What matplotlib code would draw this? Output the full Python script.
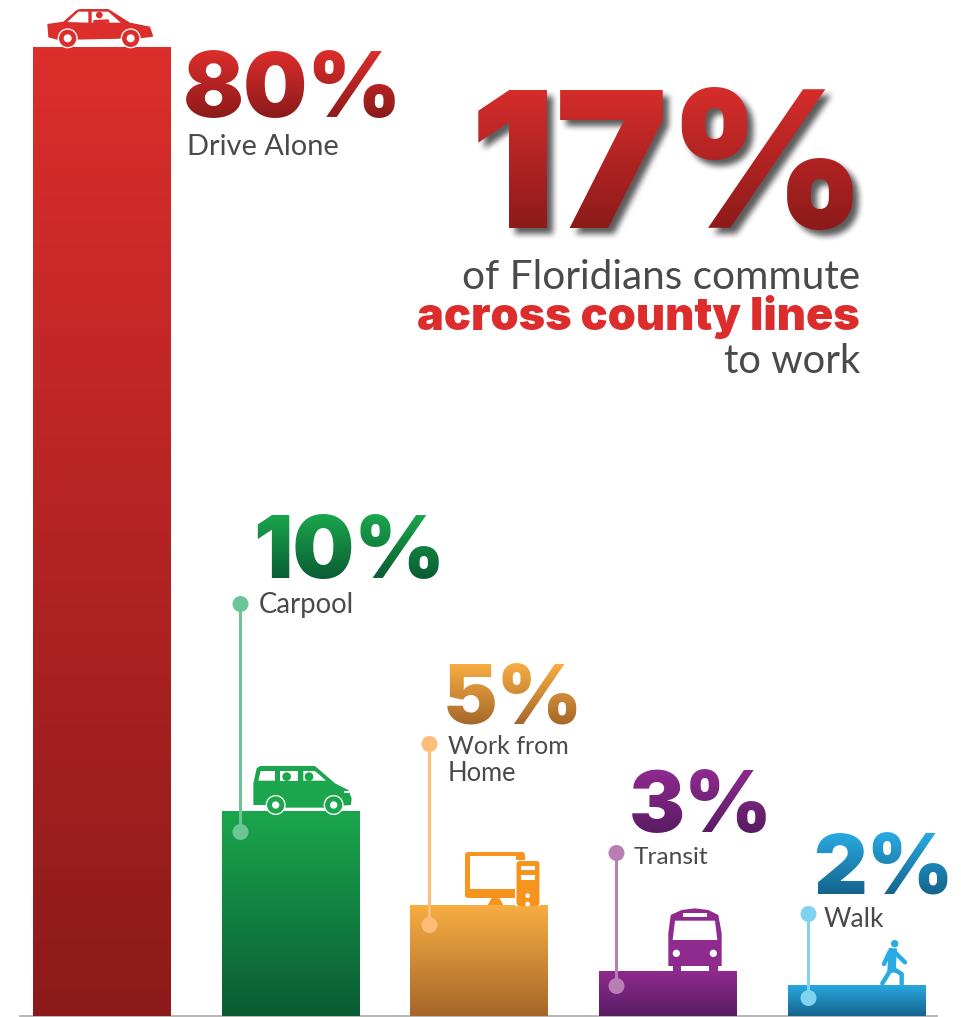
import matplotlib
matplotlib.use("Agg")
import matplotlib.pyplot as plt
import numpy as np
from matplotlib.colors import to_rgb
from matplotlib.patches import Circle, FancyBboxPatch, Polygon, Rectangle

categories = ["Drive Alone", "Carpool", "Work from\nHome", "Transit", "Walk"]
percent_labels = ["80%", "10%", "5%", "3%", "2%"]
# heights as drawn in the graphic (it is not to scale with the printed numbers)
bar_heights = [80, 16.9, 9.2, 3.7, 2.6]
top_colors = ["#dc2e2b", "#1ba64d", "#f9ae42", "#8f2a8f", "#29abe2"]
bottom_colors = ["#8c1a1a", "#0a5c33", "#a5672a", "#591c63", "#14638c"]
dot_colors = ["", "#6cc596", "#fcbd78", "#b97fb5", "#7fd3f0"]
icon_colors = ["#dc2e2b", "#1ba64d", "#f7941e", "#8f2a8f", "#29abe2"]

W, H = 962, 1017
HEAVY = "Inter"
LIGHT = "Lato"
GREY = "#4a4a4a"

fig = plt.figure(figsize=(W / 100, H / 100), dpi=100)

# bars axes: baseline at pixel row 1016, 80 at row 47
ax = fig.add_axes([20 / W, (H - 1016) / H, 917 / W, 969 / H])
ax.set_xlim((20 - 102) / 188.75, (937 - 102) / 188.75)
ax.set_ylim(0, 80)
ax.patch.set_alpha(0)
for side in ["top", "left", "right"]:
    ax.spines[side].set_visible(False)
ax.spines["bottom"].set_color("#aaaaaa")
ax.spines["bottom"].set_linewidth(1.2)
ax.set_xticks([])
ax.set_yticks([])

xpos = np.arange(len(categories))
bars = ax.bar(xpos, bar_heights, width=138 / 188.75, color=top_colors, linewidth=0)
for b, c1, c2, h, x in zip(bars, top_colors, bottom_colors, bar_heights, xpos):
    t = np.linspace(0, 1, 256)[:, None, None]
    grad = np.array(to_rgb(c1))[None, None, :] * (1 - t) + np.array(to_rgb(c2))[None, None, :] * t
    im = ax.imshow(grad, extent=[x - 0.4, x + 0.4, 0, h], aspect="auto", zorder=3, origin="upper")
    im.set_clip_path(b)
ax.set_xlim((20 - 102) / 188.75, (937 - 102) / 188.75)
ax.set_ylim(0, 80)

# overlay in pixel coordinates for the infographic parts
ov = fig.add_axes([0, 0, 1, 1])
ov.set_xlim(0, W)
ov.set_ylim(H, 0)
ov.axis("off")
ov.patch.set_alpha(0)


def gradient_filter(c1, c2, shadow=False):
    c1, c2 = np.array(to_rgb(c1)), np.array(to_rgb(c2))

    def apply(img, dpi):
        t = np.linspace(0, 1, img.shape[0])[:, None, None]
        rgb = c1[None, None, :] * (1 - t) + c2[None, None, :] * t
        rgb = np.broadcast_to(rgb, img.shape[:2] + (3,))
        alpha = img[..., 3:]
        if not shadow:
            return np.concatenate([rgb, alpha], axis=2), 0, 0
        pad = 14
        dx, dy = 6, 6
        a = np.pad(alpha[..., 0], pad)
        s = np.roll(np.roll(a, dy, axis=0), dx, axis=1)
        kernel = np.ones(7) / 7
        for _ in range(2):
            s = np.apply_along_axis(lambda r: np.convolve(r, kernel, "same"), 0, s)
            s = np.apply_along_axis(lambda r: np.convolve(r, kernel, "same"), 1, s)
        s = s * 0.8
        fg = np.pad(rgb, ((pad, pad), (pad, pad), (0, 0)), mode="edge")
        out_a = a + s * (1 - a)
        safe = np.where(out_a > 0, out_a, 1)
        out_rgb = (fg * a[..., None] + 0.2 * s[..., None] * (1 - a[..., None])) / safe[..., None]
        return np.dstack([out_rgb, out_a]), -pad, -pad

    return apply


def big(x, y, s, px, c1, c2, shadow=False):
    t = ov.text(x, y, s, fontsize=px * 0.72, family=HEAVY, weight="black",
                ha="left", va="baseline", color=c1)
    t.set_agg_filter(gradient_filter(c1, c2, shadow))
    return t


def label(x, y, s, px=30, ha="left", color=GREY, weight="regular", family=LIGHT):
    return ov.text(x, y, s, fontsize=px * 0.72, family=family, weight=weight,
                   ha=ha, va="baseline", color=color)


# percent figures
big(183, 117, percent_labels[0], 90, top_colors[0], bottom_colors[0])
big(253, 578, percent_labels[1], 87, top_colors[1], bottom_colors[1])
big(443, 723, percent_labels[2], 82, top_colors[2], bottom_colors[2])
big(629, 832, percent_labels[3], 84, top_colors[3], bottom_colors[3])
big(813, 894, percent_labels[4], 83, top_colors[4], bottom_colors[4])

# category labels
label(187, 155, categories[0], px=29)
label(259, 613, categories[1], px=27.5)
label(448, 754, categories[2].split("\n")[0], px=25)
label(448, 781, categories[2].split("\n")[1], px=25.5)
label(634, 864, categories[3], px=24.5)
label(824, 927, categories[4], px=26.5)

# headline
big(470, 228, "17%", 190, "#d62d2b", "#8c1a1a", shadow=True)
label(860, 289, "of Floridians commute", px=40.5, ha="right")
label(860, 330, "across county lines", px=45, ha="right", color="#dc2c2c", weight="black", family=HEAVY)
label(860, 373, "to work", px=40, ha="right")

# leader lines with dots
leaders = [(240.5, 604, 832), (429.5, 744, 925), (616.5, 853, 986), (808.5, 914, 998)]
for (lx, y0, y1), col in zip(leaders, dot_colors[1:]):
    ov.plot([lx, lx], [y0, y1], color=col, lw=2.2, solid_capstyle="butt", zorder=4)
    for yy in (y0, y1):
        ov.add_patch(Circle((lx, yy), 8, color=col, lw=0, zorder=5))


def shape(pts, origin, col, z=4):
    p = [(origin[0] + a / 3, origin[1] + b / 3) for a, b in pts]
    ov.add_patch(Polygon(p, closed=True, color=col, lw=0, zorder=z))


def disc(cx, cy, r, origin, col, z=4):
    ov.add_patch(Circle((origin[0] + cx / 3, origin[1] + cy / 3), r / 3, color=col, lw=0, zorder=z))


# car
o = (30, 0)
c = icon_colors[0]
shape([(52, 72), (100, 65), (140, 30), (150, 27), (235, 27), (300, 68), (360, 80),
       (370, 110), (330, 115), (85, 120), (55, 112)], o, c)
shape([(112, 66), (145, 35), (175, 35), (175, 68)], o, "white", 5)
shape([(185, 35), (235, 35), (272, 68), (185, 68)], o, "white", 5)
disc(208, 45, 10, o, c, 6)
shape([(190, 60), (235, 58), (240, 68), (190, 70)], o, c, 6)
for wx in (113, 302):
    disc(wx, 115, 30, o, "white", 6)
    disc(wx, 115, 26, o, c, 7)
    disc(wx, 115, 12, o, "white", 8)

# van
o = (220, 740)
c = icon_colors[1]
shape([(100, 195), (100, 130), (110, 85), (120, 78), (285, 78), (345, 130), (385, 150),
       (395, 175), (393, 195), (365, 197), (360, 203), (145, 203), (140, 195)], o, c)
shape([(115, 122), (122, 93), (165, 93), (165, 122)], o, "white", 5)
shape([(180, 93), (235, 93), (235, 122), (180, 122)], o, "white", 5)
shape([(250, 93), (285, 93), (318, 122), (250, 122)], o, "white", 5)
disc(200, 110, 13, o, c, 6)
disc(267, 110, 13, o, c, 6)
shape([(372, 152), (386, 152), (386, 160), (372, 160)], o, "white", 5)
shape([(190, 191), (315, 191), (315, 193), (190, 193)], o, "white", 5)
for wx in (167, 341):
    disc(wx, 195, 30, o, "white", 6)
    disc(wx, 195, 26, o, c, 7)
    disc(wx, 195, 11, o, "white", 8)

# computer
c = icon_colors[2]
ov.add_patch(FancyBboxPatch((465, 852), 60, 46, boxstyle="round,pad=0,rounding_size=3", color=c, lw=0, zorder=4))
ov.add_patch(Rectangle((469.7, 856.4), 46.7, 32.6, color="white", lw=0, zorder=5))
shape([(803, 495), (815, 474), (838, 474), (850, 495)], o, c)
ov.add_patch(Rectangle((515, 860), 25, 46, color="white", lw=0, zorder=5))
ov.add_patch(FancyBboxPatch((516.5, 861), 23, 45, boxstyle="round,pad=0,rounding_size=3", color=c, lw=0, zorder=6))
shape([(902, 377), (945, 377), (945, 391), (902, 391)], o, "white", 7)
shape([(902, 405), (945, 405), (945, 419), (902, 419)], o, "white", 7)
disc(923, 467, 7, o, "white", 7)
disc(923, 492, 7, o, "white", 7)

# bus
o = (600, 890)
c = icon_colors[3]
shape([(205, 228), (205, 130), (212, 75), (245, 60), (285, 55), (325, 60), (355, 75),
       (365, 130), (365, 228)], o, c)
shape([(218, 228), (242, 228), (242, 243), (218, 243)], o, c)
shape([(328, 228), (353, 228), (353, 243), (328, 243)], o, c)
shape([(225, 92), (345, 92), (352, 150), (218, 150)], o, "white", 5)
shape([(248, 70), (322, 70), (322, 80), (248, 80)], o, "white", 5)
disc(229, 190, 11, o, "white", 5)
disc(340, 190, 11, o, "white", 5)

# walker
c = icon_colors[4]
disc(884, 161, 11, o, c)
limbs = [[(878, 187), (875, 235)], [(868, 187), (852, 222)], [(885, 187), (915, 217)],
         [(875, 235), (847, 280)], [(877, 235), (905, 252), (905, 282)]]
for limb in limbs:
    ov.plot([o[0] + a / 3 for a, b in limb], [o[1] + b / 3 for a, b in limb], color=c,
            lw=3.2, solid_capstyle="round", zorder=4)
ov.plot([o[0] + 878 / 3, o[0] + 875 / 3], [o[1] + 187 / 3, o[1] + 235 / 3], color=c, lw=6, zorder=4)

fig.savefig("out.png", dpi=100, facecolor="white")
